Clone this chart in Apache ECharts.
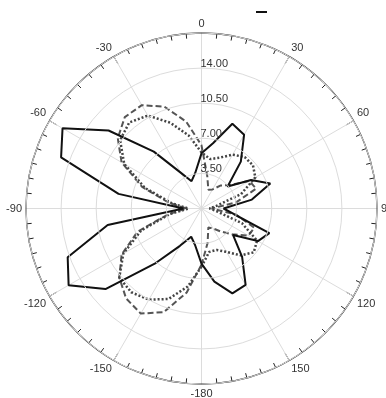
<!DOCTYPE html>
<html>
<head>
<meta charset="utf-8">
<script src="https://cdn.jsdelivr.net/npm/echarts@6/dist/echarts.min.js"></script>
<style>
  html, body { margin: 0; padding: 0; background: #fff; }
  #chart { width: 386px; height: 398px; }
</style>
</head>
<body>
<div id="chart"></div>
<script>
// Bearing of each sample, degrees (negative = counter-clockwise from 0)
const angles = [-180, -170, -160, -150, -140, -130, -120, -110, -100, -90,
                -80, -70, -60, -50, -40, -30, -20, -10, 0, 10, 20, 30, 40, 50,
                60, 70, 80, 90, 100, 110, 120, 130, 140, 150, 160, 170];

// Three radial responses sampled at the bearings above
const solidValues = [5.5, 3.7, 3.0, 4.3, 7.1, 12.5, 15.3, 14.2, 9.5, 1.8,
                     8.4, 14.9, 16.0, 12.1, 7.4, 4.1, 2.9, 3.6, 5.5, 6.6, 9.0, 8.5, 6.1, 3.4,
                     5.7, 7.3, 5.1, 2.2, 3.3, 7.2, 6.5, 4.1, 6.3, 8.8, 9.0, 7.4];
const dashedValues = [5.6, 8.5, 11.0, 12.1, 11.7, 10.7, 9.2, 6.8, 3.4, 1.5,
                      3.3, 6.3, 9.2, 10.9, 11.9, 11.9, 10.8, 8.8, 6.3, 3.3, 2.0, 2.2, 3.0, 3.6,
                      5.5, 5.8, 3.5, 1.0, 3.5, 5.6, 5.4, 4.0, 3.0, 2.3, 2.0, 3.5];
const dottedValues = [5.8, 7.9, 9.6, 10.5, 10.9, 10.7, 9.0, 6.4, 3.2, 1.3,
                      3.0, 6.0, 8.9, 10.6, 11.2, 10.7, 9.1, 7.4, 5.6, 5.0, 5.4, 6.2, 6.7, 6.7,
                      6.2, 4.2, 1.5, 0.8, 1.5, 4.3, 6.4, 6.8, 6.1, 5.0, 4.4, 4.4];

// Radial ring values
const radiusTicks = [0, 3.5, 7, 10.5, 14, 17.5];

// Build a closed polar trace: [radius, angle 0..360]
function closedTrace(values) {
  const pts = values.map((v, i) => [v, (angles[i] + 360) % 360]);
  pts.push(pts[0]);
  return pts;
}

const chart = echarts.init(document.getElementById('chart'), null, { renderer: 'canvas' });

const labelFont = { color: '#333', fontSize: 11, fontFamily: 'Liberation Sans, Arial, sans-serif' };

chart.setOption({
  animation: false,
  backgroundColor: '#fff',
  legend: {
    left: 251, top: 6,
    itemWidth: 11, itemHeight: 2,
    itemGap: 0,
    icon: 'rect',
    data: ['Response'],
    formatter: () => '',
    textStyle: { fontSize: 1 }
  },
  polar: { center: [201.5, 208.5], radius: 175.5 },
  angleAxis: {
    type: 'value',
    min: 0, max: 360, interval: 30,
    startAngle: 90,
    clockwise: true,
    axisLine: { show: true, lineStyle: { color: '#222', width: 1.3 } },
    axisTick: { show: true, inside: true, length: 8, lineStyle: { color: '#222', width: 1 } },
    minorTick: { show: true, splitNumber: 6, length: 5, lineStyle: { color: '#222', width: 1 } },
    splitLine: { show: true, lineStyle: { color: '#dcdcdc', width: 1 } },
    axisLabel: Object.assign({
      margin: 4,
      formatter: v => {
        if (v >= 360) return '';
        return String(v >= 180 ? v - 360 : v);
      }
    }, labelFont)
  },
  radiusAxis: {
    type: 'value',
    min: radiusTicks[0], max: radiusTicks[radiusTicks.length - 1], interval: 3.5,
    axisLine: { show: false },
    axisTick: { show: false },
    splitLine: { show: true, lineStyle: { color: '#dcdcdc', width: 1 } },
    axisLabel: Object.assign({
      showMinLabel: false,
      showMaxLabel: false,
      margin: 1,
      align: 'left',
      verticalAlign: 'bottom',
      lineHeight: 8,
      formatter: v => (v === 0 || v >= 17.5) ? '' : v.toFixed(2)
    }, labelFont),
    z: 5
  },
  series: [
    {
      name: 'Response',
      type: 'line', coordinateSystem: 'polar',
      data: closedTrace(solidValues),
      showSymbol: false, symbol: 'none',
      lineStyle: { color: '#111', width: 2 },
      itemStyle: { color: '#111' },
      z: 4
    },
    {
      name: 'Dashed',
      type: 'line', coordinateSystem: 'polar',
      data: closedTrace(dashedValues),
      showSymbol: false, symbol: 'none',
      lineStyle: { color: '#555', width: 2, type: [6, 3] },
      z: 3
    },
    {
      name: 'Dotted',
      type: 'line', coordinateSystem: 'polar',
      data: closedTrace(dottedValues),
      showSymbol: false, symbol: 'none',
      lineStyle: { color: '#444', width: 2.5, type: [2, 2] },
      z: 3
    }
  ]
});
</script>
</body>
</html>
